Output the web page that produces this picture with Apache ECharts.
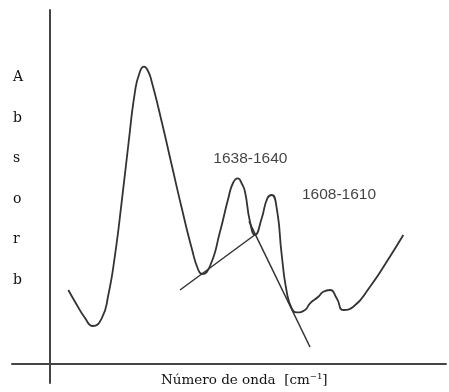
<!DOCTYPE html>
<html>
<head>
<meta charset="utf-8">
<script src="https://cdn.jsdelivr.net/npm/echarts@6/dist/echarts.min.js"></script>
<style>
html,body{margin:0;padding:0;background:#fff;}
#chart{width:449px;height:392px;}
</style>
</head>
<body>
<div id="chart"></div>
<script>
// Wavenumber axis (arbitrary units, decreasing wavenumber to the right)
const spectrumX = [4.58, 6.25, 8.75, 10.68, 12.93, 14.58, 16.25, 17.93, 19.58, 21.25, 22.38, 23.5, 24.5, 25.43, 27.93, 30.43, 32.93, 35.43, 37.08, 38.0, 40.0, 42.5, 44.58, 45.75, 46.93, 48.0, 48.75, 50.0, 51.25, 52.93, 54.33, 55.43, 56.68, 57.93, 59.18, 60.43, 61.68, 63.75, 65.0, 67.08, 68.33, 70.0, 71.68, 73.33, 75.83, 80.0, 84.18, 88.33];
// Absorbance (arbitrary units)
const spectrumY = [20.90, 17.60, 12.99, 10.73, 12.91, 19.49, 30.79, 45.85, 61.86, 76.92, 82.20, 83.98, 82.77, 79.75, 68.45, 56.21, 44.07, 32.68, 26.55, 25.42, 27.68, 37.37, 46.81, 51.13, 52.46, 50.85, 48.67, 40.20, 36.44, 41.16, 46.81, 47.74, 43.98, 30.79, 20.42, 15.73, 14.60, 15.25, 17.15, 19.01, 20.42, 20.90, 18.56, 15.25, 16.19, 21.84, 28.90, 36.44];
// Baseline tangent lines
const baseline1X = [32.5, 51.5];
const baseline1Y = [20.90, 36.72];
const baseline2X = [49.75, 65.0];
const baseline2Y = [40.3, 4.80];
// Band annotations
const bandLabels = ['1638-1640', '1608-1610'];
const bandLabelX = [50.1, 72.25];
const bandLabelY = [57.9, 47.74];
// Axis titles
const yTitleLetters = ['A', 'b', 's', 'o', 'r', 'b'];
const xTitle = 'Número de onda  [cm⁻¹]';

const zip = (xs, ys) => xs.map((x, i) => [x, ys[i]]);
const lineColor = '#333333';

const chart = echarts.init(document.getElementById('chart'), null, {renderer: 'canvas'});
chart.setOption({
  animation: false,
  backgroundColor: '#ffffff',
  grid: {left: 12, right: 3, top: 10, bottom: 9, containLabel: false},
  xAxis: {
    type: 'value', min: -9.5, max: 99,
    axisLine: {show: true, onZero: true, lineStyle: {color: '#454545', width: 2}},
    axisTick: {show: false}, axisLabel: {show: false}, splitLine: {show: false}
  },
  yAxis: {
    type: 'value', min: -5.367, max: 100,
    axisLine: {show: true, onZero: true, lineStyle: {color: '#454545', width: 2}},
    axisTick: {show: false}, axisLabel: {show: false}, splitLine: {show: false}
  },
  graphic: [
    {
      type: 'text', left: 13, top: 57,
      style: {
        text: yTitleLetters.join('\n'),
        font: '14px "DejaVu Serif"', lineHeight: 40.6, fill: '#111', align: 'center'
      }
    },
    {
      type: 'text', left: 161, top: 373,
      style: {text: xTitle, font: '13.5px "DejaVu Serif"', fill: '#111'}
    }
  ],
  series: [
    {
      type: 'line', data: zip(spectrumX, spectrumY), smooth: 0.55,
      showSymbol: false, symbol: 'none',
      lineStyle: {color: lineColor, width: 1.8}
    },
    {
      type: 'line', data: zip(baseline1X, baseline1Y), symbol: 'none',
      lineStyle: {color: lineColor, width: 1.5}
    },
    {
      type: 'line', data: zip(baseline2X, baseline2Y), symbol: 'none',
      lineStyle: {color: lineColor, width: 1.5}
    },
    {
      type: 'scatter', symbolSize: 0,
      data: bandLabels.map((t, i) => ({name: t, value: [bandLabelX[i], bandLabelY[i]]})),
      label: {
        show: true, position: 'inside', formatter: p => p.name,
        fontFamily: '"Liberation Sans"', fontSize: 15.5, color: '#111'
      }
    }
  ]
});
</script>
</body>
</html>
